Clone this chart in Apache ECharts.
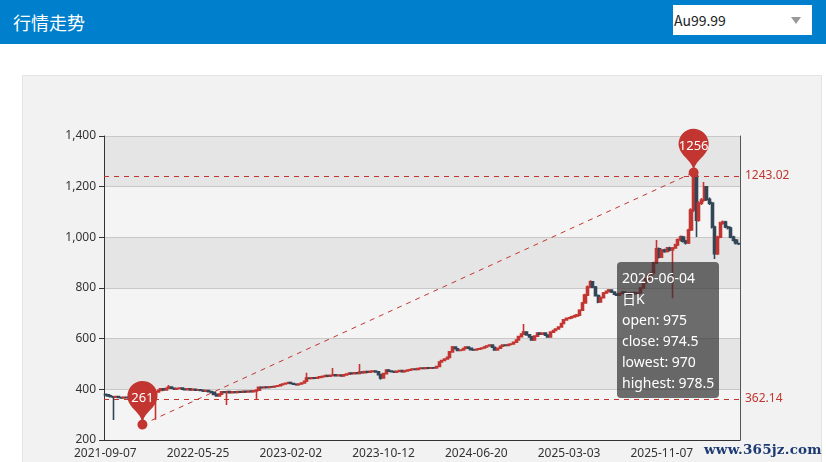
<!DOCTYPE html>
<html><head><meta charset="utf-8">
<script src="https://cdn.jsdelivr.net/npm/echarts@6/dist/echarts.min.js"></script>
<style>
html,body{margin:0;padding:0;width:826px;height:462px;overflow:hidden;background:#fff;font-family:"Microsoft YaHei","Noto Sans CJK SC","Noto Sans",sans-serif;}
#header{position:absolute;left:0;top:0;width:826px;height:44px;background:#0080cc;}
#title{position:absolute;left:13px;top:8px;color:#fff;font-size:18px;line-height:28px;}
#select{position:absolute;left:673px;top:5px;width:139px;height:30px;background:#fff;}
#select span{position:absolute;left:1px;top:0;line-height:30px;font-size:14px;color:#222;}
#arrow{position:absolute;left:791px;top:17px;width:0;height:0;border-left:5px solid transparent;border-right:5px solid transparent;border-top:7px solid #999;}
#panel{position:absolute;left:22px;top:75px;width:798px;height:386px;background:#f2f2f2;border:1px solid #e4e4e4;}
#chart{position:absolute;left:0;top:0;width:826px;height:462px;}
#wm{position:absolute;left:704px;top:440px;font-family:"DejaVu Serif",serif;font-weight:bold;font-size:13.5px;line-height:18px;color:#1d3b72;letter-spacing:0.2px;}
</style></head>
<body>
<div id="header"><div id="title">行情走势</div><div id="select"><span>Au99.99</span></div><div id="arrow"></div></div>
<div id="panel"></div>
<div id="chart"></div>
<div id="wm">www.365jz.com</div>
<script>
const dates = [
'2021-09-07','2021-09-14','2021-09-21','2021-09-29','2021-10-06','2021-10-13','2021-10-21','2021-10-28','2021-11-04','2021-11-12',
'2021-11-19','2021-11-26','2021-12-06','2021-12-13','2021-12-20','2021-12-28','2022-01-04','2022-01-11','2022-01-19','2022-01-26',
'2022-02-02','2022-02-10','2022-02-17','2022-02-24','2022-03-04','2022-03-11','2022-03-18','2022-03-28','2022-04-04','2022-04-11',
'2022-04-19','2022-04-26','2022-05-03','2022-05-11','2022-05-18','2022-05-25','2022-06-01','2022-06-08','2022-06-15','2022-06-22',
'2022-06-30','2022-07-07','2022-07-14','2022-07-21','2022-07-28','2022-08-04','2022-08-12','2022-08-19','2022-08-26','2022-09-02',
'2022-09-09','2022-09-16','2022-09-26','2022-10-03','2022-10-10','2022-10-17','2022-10-24','2022-10-31','2022-11-08','2022-11-15',
'2022-11-22','2022-11-29','2022-12-06','2022-12-13','2022-12-21','2022-12-28','2023-01-04','2023-01-11','2023-01-18','2023-01-26',
'2023-02-02','2023-02-09','2023-02-16','2023-02-23','2023-03-02','2023-03-09','2023-03-17','2023-03-24','2023-03-31','2023-04-07',
'2023-04-14','2023-04-21','2023-04-28','2023-05-08','2023-05-15','2023-05-22','2023-05-29','2023-06-05','2023-06-12','2023-06-19',
'2023-06-27','2023-07-04','2023-07-11','2023-07-18','2023-07-25','2023-08-01','2023-08-08','2023-08-16','2023-08-23','2023-08-30',
'2023-09-06','2023-09-13','2023-09-20','2023-09-27','2023-10-05','2023-10-12','2023-10-19','2023-10-26','2023-11-02','2023-11-09',
'2023-11-16','2023-11-24','2023-12-01','2023-12-08','2023-12-15','2023-12-22','2023-12-29','2024-01-05','2024-01-15','2024-01-22',
'2024-01-29','2024-02-05','2024-02-12','2024-02-19','2024-02-26','2024-03-05','2024-03-12','2024-03-19','2024-03-26','2024-04-02',
'2024-04-09','2024-04-16','2024-04-24','2024-05-01','2024-05-08','2024-05-15','2024-05-22','2024-05-29','2024-06-05','2024-06-13',
'2024-06-20','2024-06-27','2024-07-04','2024-07-11','2024-07-18','2024-07-26','2024-08-02','2024-08-09','2024-08-16','2024-08-23',
'2024-09-02','2024-09-09','2024-09-16','2024-09-23','2024-09-30','2024-10-08','2024-10-15','2024-10-22','2024-10-29','2024-11-05',
'2024-11-13','2024-11-20','2024-11-27','2024-12-04','2024-12-11','2024-12-19','2024-12-26','2025-01-02','2025-01-09','2025-01-16',
'2025-01-24','2025-01-31','2025-02-07','2025-02-14','2025-02-21','2025-03-03','2025-03-10','2025-03-17','2025-03-24','2025-03-31',
'2025-04-07','2025-04-14','2025-04-21','2025-04-29','2025-05-06','2025-05-13','2025-05-20','2025-05-27','2025-06-03','2025-06-10',
'2025-06-17','2025-06-25','2025-07-02','2025-07-09','2025-07-16','2025-07-23','2025-07-30','2025-08-06','2025-08-13','2025-08-21',
'2025-08-28','2025-09-04','2025-09-11','2025-09-18','2025-09-25','2025-10-02','2025-10-09','2025-10-17','2025-10-24','2025-10-31',
'2025-11-07','2025-11-14','2025-11-21','2025-11-28','2025-12-08','2025-12-15','2025-12-22','2025-12-29','2026-01-05','2026-01-12',
'2026-01-19','2026-01-27','2026-02-03','2026-02-10','2026-02-17','2026-02-24','2026-03-03','2026-03-10','2026-03-18','2026-03-25',
'2026-04-01','2026-04-08','2026-04-15','2026-04-22','2026-04-29','2026-05-07','2026-05-14','2026-05-21','2026-05-28','2026-06-04'
];
const opens = [
380,378,374,371,369,372,368,366,369,367, 365,368,366,370,366,362,368,372,375,383,
390,396,402,398,404,409,404,401,403,405, 401,399,402,398,400,397,398,396,393,395,
391,388,380,374,381,390,388,391,387,390, 388,391,389,392,390,393,391,394,397,408,
406,409,407,410,409,412,414,418,421,424, 427,423,420,418,421,425,432,445,443,446,
444,447,449,451,454,452,455,457,454,456, 453,457,460,464,462,465,463,468,466,470,
468,471,472,469,458,445,462,476,472,470, 468,471,474,470,473,476,478,480,478,482,
484,482,485,483,485,484,490,508,514,520, 526,548,567,560,553,555,561,567,562,556,
555,558,560,563,567,571,575,566,555,562, 570,575,573,577,579,586,595,608,618,626,
615,607,595,610,622,618,622,614,607,626, 632,638,646,660,674,680,682,686,690,693,
712,741,772,804,824,804,770,745,762,780, 786,792,784,776,772,778,784,778,780,776,
782,778,780,800,820,836,852,859,899,955, 922,950,944,958,950,958,970,990,1001,985,
978,1029,1108,1243,1068,1135,1147,1199,1150,1135, 1041,935,1001,1056,1060,1041,1037,1001,989,975
];
const closes = [
378,374,371,369,372,368,366,369,367,365, 368,366,370,366,362.14,368,372,375,383,390,
396,402,398,404,409,404,401,403,405,401, 399,402,398,400,397,398,396,393,395,391,
388,380,374,381,390,388,391,387,390,388, 391,389,392,390,393,391,394,397,408,406,
409,407,410,409,412,414,418,421,424,427, 423,420,418,421,425,432,445,443,446,444,
447,449,451,454,452,455,457,454,456,453, 457,460,464,462,465,463,468,466,470,468,
471,472,469,458,445,462,476,472,470,468, 471,474,470,473,476,478,480,478,482,484,
482,485,483,485,484,490,508,514,520,526, 548,567,560,553,555,561,567,562,556,555,
558,560,563,567,571,575,566,555,562,570, 575,573,577,579,586,595,608,618,626,615,
607,595,610,622,618,622,614,607,626,632, 638,646,660,674,680,682,686,690,693,712,
741,772,804,824,804,770,745,762,780,786, 792,784,776,772,778,784,778,780,776,782,
778,780,800,820,836,852,859,899,955,922, 950,944,958,950,958,970,990,1001,985,978,
1029,1108,1243.02,1068,1135,1147,1199,1150,1135,1041, 935,1001,1056,1060,1041,1037,1001,989,978,974.5
];
const lows = [
375,372,369,279,367,366,364,364,365,363, 363,364,365,364,261,360,366,370,373,280,
388,394,396,396,402,402,399,399,401,399, 397,397,396,396,395,395,394,391,391,389,
386,378,372,372,379,386,338,385,385,386, 386,387,387,388,388,389,389,362,395,404,
404,405,405,407,407,410,412,416,419,422, 421,418,416,416,419,423,430,441,441,442,
442,445,447,449,450,450,453,452,452,451, 451,455,458,460,460,461,461,464,464,466,
466,469,467,456,438,443,460,470,468,466, 466,469,468,468,471,474,476,476,476,480,
480,480,481,481,482,482,488,506,512,518, 524,546,557,550,550,553,559,560,554,552,
553,556,558,561,565,569,564,553,553,560, 568,571,571,575,577,584,593,606,616,613,
604,592,593,608,615,616,611,604,605,624, 630,636,644,658,672,677,679,683,686,690,
709,738,769,800,800,766,740,742,759,776, 782,780,772,768,769,775,775,774,773,773,
775,775,777,797,817,832,848,855,895,916, 918,939,940,945,760,954,966,985,980,972,
974,1025,1100,1001,1062,1128,1140,1144,1128,1035, 914,930,996,1050,1036,1031,996,984,972,970
];
const highs = [
383,380,376,373,374,373,370,371,371,369, 370,370,372,371,368,370,374,378,385,392,
398,405,404,406,417,411,406,405,407,407, 403,404,403,402,402,400,400,398,397,396,
393,389,382,383,392,392,393,392,392,392, 393,393,394,394,395,395,396,399,410,410,
411,411,412,412,414,416,420,423,426,429, 429,425,422,423,427,434,465,448,448,448,
449,451,453,456,456,457,484,459,458,458, 459,462,466,466,467,467,500,470,472,472,
473,474,474,471,460,464,478,478,474,472, 473,476,476,475,478,480,482,482,484,486,
486,487,487,487,487,492,510,517,523,529, 551,571,570,562,558,564,570,569,564,559,
560,562,565,569,573,578,577,568,564,572, 577,577,579,581,588,598,611,621,658,628,
617,609,612,625,624,625,624,616,628,635, 641,649,663,677,684,686,690,694,697,716,
745,777,810,831,828,808,774,766,784,790, 796,795,787,779,781,787,787,783,783,785,
785,783,803,824,840,856,864,904,989,960, 954,955,962,963,962,975,995,1007,1006,990,
1034,1115,1256,1245,1142,1155,1218,1203,1157,1140, 1046,1006,1062,1066,1065,1046,1042,1006,993,978.5
];
const yTicks = {min: 200, max: 1400, step: 200};
const seriesName = '日K';

const values = opens.map((o, i) => [o, closes[i], lows[i], highs[i]]);
const UP = '#c23531', DOWN = '#314656';
const FONT = '"Microsoft YaHei","Noto Sans","Noto Sans CJK SC",sans-serif';

const chart = echarts.init(document.getElementById('chart'));
chart.setOption({
  animation: false,
  backgroundColor: 'transparent',
  textStyle: {fontFamily: FONT},
  grid: {left: 104, top: 136, right: 86, bottom: 22, containLabel: false},
  tooltip: {
    trigger: 'item',
    alwaysShowContent: true,
    position: [617, 262],
    backgroundColor: 'rgba(50,50,50,0.7)',
    borderWidth: 0,
    padding: [5, 5],
    textStyle: {color: '#fff', fontSize: 14, fontFamily: FONT},
    extraCssText: 'box-shadow:none;border-radius:4px;line-height:21px;',
    formatter: function (p) {
      const i = p.dataIndex;
      return dates[i] + '<br/>' + seriesName + '<br/>open: ' + opens[i] + '<br/>close: ' + closes[i] +
        '<br/>lowest: ' + lows[i] + '<br/>highest: ' + highs[i];
    }
  },
  xAxis: {
    type: 'category',
    data: dates,
    boundaryGap: true,
    axisLine: {lineStyle: {color: '#333'}},
    axisTick: {alignWithLabel: true, interval: 34, lineStyle: {color: '#333'}},
    axisLabel: {interval: 34, color: '#333', fontSize: 12},
    splitLine: {show: false}
  },
  yAxis: [{
    type: 'value',
    min: yTicks.min, max: yTicks.max, interval: yTicks.step,
    axisLine: {show: true, lineStyle: {color: '#333'}},
    axisTick: {show: true, lineStyle: {color: '#333'}},
    axisLabel: {color: '#333', fontSize: 12},
    splitLine: {show: true, lineStyle: {color: '#c8c8c8'}},
    splitArea: {show: true, areaStyle: {color: ['rgba(250,250,250,0.3)', 'rgba(200,200,200,0.3)']}}
  }, {
    type: 'value', position: 'right',
    min: yTicks.min, max: yTicks.max, interval: yTicks.step,
    axisLine: {show: true, lineStyle: {color: '#555'}},
    axisTick: {show: false}, axisLabel: {show: false},
    splitLine: {show: false}, splitArea: {show: false}
  }],
  series: [{
    name: seriesName,
    type: 'candlestick',
    data: values,
    barWidth: 2.6,
    itemStyle: {color: UP, color0: DOWN, borderColor: UP, borderColor0: DOWN, borderWidth: 1.6},
    markPoint: {
      symbol: 'pin',
      symbolSize: 50,
      itemStyle: {color: UP},
      label: {color: '#fff', fontSize: 13, formatter: function (p) { return Math.round(p.value) + ''; }},
      data: [
        {name: 'highest value', type: 'max', valueDim: 'highest'},
        {name: 'lowest value', type: 'min', valueDim: 'lowest'}
      ]
    },
    markLine: {
      symbol: ['none', 'none'],
      lineStyle: {color: UP, type: [5, 5], width: 1},
      label: {color: UP, fontSize: 12, formatter: function (p) { return p.value + ''; }},
      data: [
        [
          {name: 'from lowest to highest', type: 'min', valueDim: 'lowest', symbol: 'circle', symbolSize: 10, label: {show: false}},
          {type: 'max', valueDim: 'highest', symbol: 'circle', symbolSize: 10, label: {show: false}}
        ],
        {name: 'min line on close', type: 'min', valueDim: 'close'},
        {name: 'max line on close', type: 'max', valueDim: 'close'}
      ]
    }
  }]
});
chart.dispatchAction({type: 'showTip', seriesIndex: 0, dataIndex: dates.length - 1});
</script>
</body></html>
